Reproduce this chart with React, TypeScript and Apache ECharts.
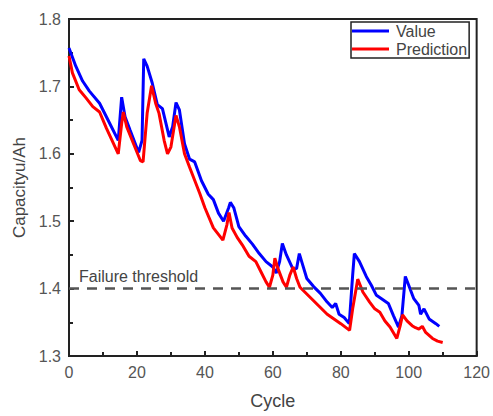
import React, { useEffect, useRef } from "react";
import * as echarts from "echarts";

const valueSeries: [number, number][] = [
  [0, 1.757], [2, 1.73], [4, 1.708], [6, 1.693], [9, 1.675], [12, 1.645], [14.5, 1.62],
  [15.5, 1.684], [16.5, 1.655], [18, 1.635], [20.5, 1.602], [21.5, 1.62], [22, 1.741],
  [23, 1.73], [24.5, 1.705], [26, 1.673], [27.5, 1.667], [29.5, 1.625], [30.5, 1.64],
  [31.5, 1.676], [32.5, 1.665], [34, 1.615], [35.5, 1.592], [37, 1.588], [39, 1.56],
  [41, 1.54], [42.5, 1.532], [44, 1.512], [45.5, 1.5], [47, 1.52], [47.5, 1.528],
  [48.5, 1.52], [50, 1.492], [52, 1.478], [54, 1.466], [56, 1.452], [58, 1.44],
  [60, 1.432], [61, 1.423], [62, 1.44], [62.8, 1.467], [64, 1.45], [66, 1.428],
  [67, 1.43], [67.8, 1.452], [68.5, 1.44], [70, 1.415], [72, 1.403], [74, 1.393],
  [76, 1.38], [77.5, 1.372], [78.5, 1.378], [79.5, 1.362], [81, 1.357], [82.5, 1.348],
  [83.5, 1.42], [84, 1.452], [85.5, 1.44], [87.5, 1.418], [89, 1.405], [90.5, 1.39],
  [92, 1.385], [94, 1.378], [95.5, 1.36], [97, 1.343], [98, 1.36], [99, 1.418],
  [100, 1.405], [101.5, 1.385], [103, 1.375], [103.5, 1.362], [104.5, 1.37],
  [106, 1.355], [108, 1.348], [109, 1.344],
];

const predictionSeries: [number, number][] = [
  [0, 1.745], [1, 1.72], [3, 1.695], [5, 1.683], [7, 1.67], [9, 1.662], [11, 1.638],
  [14.5, 1.6], [15.5, 1.645], [16, 1.662], [17, 1.64], [19, 1.615], [21, 1.59],
  [21.8, 1.588], [23, 1.66], [24.3, 1.701], [25.5, 1.675], [26.5, 1.66], [28, 1.62],
  [29, 1.6], [30, 1.61], [31.5, 1.657], [32.5, 1.64], [34, 1.6], [35.5, 1.58],
  [38.5, 1.541], [40, 1.52], [42.5, 1.49], [45.3, 1.472], [46.5, 1.495], [47.1, 1.513],
  [48, 1.49], [49.5, 1.476], [51, 1.465], [53, 1.448], [55, 1.44], [56.5, 1.425],
  [58, 1.41], [59, 1.402], [60, 1.42], [60.6, 1.445], [61.5, 1.43], [63, 1.41],
  [64, 1.402], [65, 1.42], [66, 1.432], [67, 1.415], [68, 1.402], [70, 1.392],
  [72, 1.382], [74, 1.372], [76, 1.362], [78, 1.355], [80, 1.348], [82.6, 1.338],
  [83.5, 1.37], [85, 1.414], [86.5, 1.395], [88.5, 1.38], [90, 1.37], [91.5, 1.365],
  [93, 1.352], [94.5, 1.343], [96.5, 1.326], [97.5, 1.345], [98.2, 1.361],
  [99.5, 1.352], [101, 1.345], [102, 1.342], [103, 1.34], [104, 1.344], [105, 1.335],
  [107, 1.326], [108.5, 1.322], [110, 1.32],
];

const failureThreshold = 1.4;
const seriesNames = ["Value", "Prediction"];

export default function App() {
  const ref = useRef<HTMLDivElement>(null);
  useEffect(() => {
    if (!ref.current) return;
    const chart = echarts.init(ref.current, null, { renderer: "svg" });
    const font = "Liberation Sans, Arial, sans-serif";
    chart.setOption({
      animation: false,
      textStyle: { fontFamily: font },
      grid: {
        left: 69, right: 16, top: 19, bottom: 60,
        show: true, borderColor: "#222", borderWidth: 2,
      },
      legend: {
        data: seriesNames,
        orient: "vertical",
        left: 351, top: 22,
        padding: [1, 2, 1, 1],
        itemWidth: 37, itemHeight: 3, itemGap: 2,
        icon: "rect",
        borderColor: "#222", borderWidth: 1.5,
        textStyle: { fontSize: 16, color: "#444", fontFamily: font, padding: [0, 0, 0, 2] },
      },
      xAxis: {
        type: "value", min: 0, max: 120, interval: 20,
        name: "Cycle", nameLocation: "middle", nameGap: 36,
        nameTextStyle: { fontSize: 18, color: "#444" },
        axisLine: { show: true, lineStyle: { color: "#222", width: 2 } },
        axisTick: { show: true, inside: true, length: 5, lineStyle: { color: "#222", width: 2 } },
        minorTick: { show: true, splitNumber: 2, length: 4, lineStyle: { color: "#222", width: 2 } },
        axisLabel: { fontSize: 16, color: "#555", margin: 8 },
        splitLine: { show: false },
      },
      yAxis: {
        type: "value", min: 1.3, max: 1.8, interval: 0.1,
        name: "Capacityu/Ah", nameLocation: "middle", nameGap: 40,
        nameTextStyle: { fontSize: 17, color: "#444" },
        axisLine: { show: true, lineStyle: { color: "#222", width: 2 } },
        axisTick: { show: true, inside: true, length: 5, lineStyle: { color: "#222", width: 2 } },
        minorTick: { show: true, splitNumber: 2, length: 4, lineStyle: { color: "#222", width: 2 } },
        axisLabel: { fontSize: 16, color: "#555", margin: 8, formatter: (v: number) => v.toFixed(1) },
        splitLine: { show: false },
      },
      series: [
        {
          name: seriesNames[0], type: "line", data: valueSeries, symbol: "none",
          lineStyle: { color: "#0000ff", width: 3 }, itemStyle: { color: "#0000ff" }, z: 3,
          markLine: {
            silent: true, symbol: "none",
            data: [{ yAxis: failureThreshold }],
            lineStyle: { color: "#555", type: [10, 8], width: 2.5 },
            label: {
              show: true, formatter: "Failure threshold", position: "insideStartTop",
              fontSize: 16, color: "#444", distance: [10, 4],
            },
          },
        },
        {
          name: seriesNames[1], type: "line", data: predictionSeries, symbol: "none",
          lineStyle: { color: "#ff0000", width: 3 }, itemStyle: { color: "#ff0000" }, z: 4,
        },
      ],
    });
    return () => chart.dispose();
  }, []);
  return (
    <div
      ref={ref}
      style={{ position: "absolute", left: 0, top: 0, width: 493, height: 416 }}
    />
  );
}
